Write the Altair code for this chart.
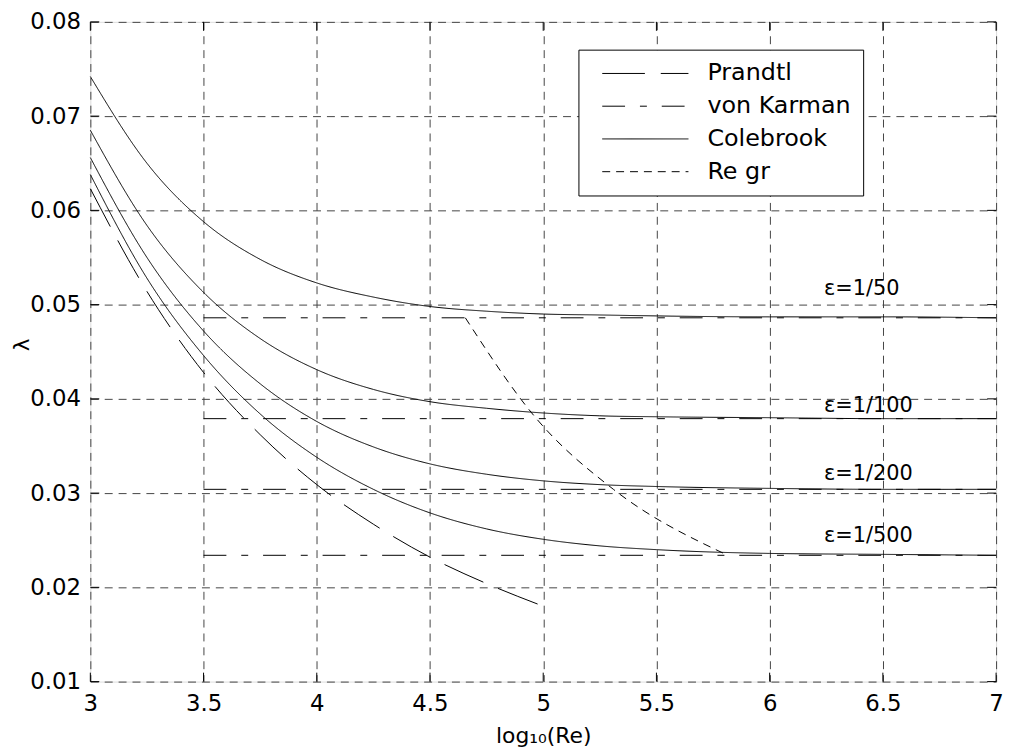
import altair as alt
import pandas as pd

# ---- data ----
eps_names = ["1/50", "1/100", "1/200", "1/500"]

x_cb = [3.0, 3.25, 3.5, 3.75, 4.0, 4.25, 4.5, 4.75, 5.0, 5.25, 5.5, 6.0, 6.5, 7.0]
cb_50 = [0.0742, 0.0650, 0.0588, 0.0548, 0.0523, 0.0508, 0.0498, 0.0493, 0.0490, 0.0489, 0.0488, 0.0487, 0.0487, 0.0486]
cb_100 = [0.0685, 0.0584, 0.0513, 0.0464, 0.0431, 0.0410, 0.0397, 0.0390, 0.0385, 0.0382, 0.0381, 0.0380, 0.0379, 0.0379]
cb_200 = [0.0656, 0.0550, 0.0472, 0.0416, 0.0376, 0.0349, 0.0331, 0.0320, 0.0313, 0.0309, 0.0307, 0.0305, 0.0304, 0.0304]
cb_500 = [0.0638, 0.0528, 0.0446, 0.0384, 0.0338, 0.0304, 0.0279, 0.0262, 0.0251, 0.0244, 0.0240, 0.0236, 0.0235, 0.0234]

x_pr = [3.0, 3.25, 3.5, 3.75, 4.0, 4.25, 4.5, 4.75, 5.0]
pr = [0.0623, 0.0514, 0.0428, 0.0362, 0.0309, 0.0267, 0.0232, 0.0204, 0.0180]

x_vk = [3.5, 7.0]
vk = [0.0486, 0.0379, 0.0304, 0.0234]

x_gr = [4.656, 4.97, 5.31, 5.815]
gr = [0.0486, 0.0379, 0.0304, 0.0234]

lab_x = 6.24
lab_y = [0.0517, 0.0392, 0.0320, 0.0254]
lab_text = ["ε=1/50", "ε=1/100", "ε=1/200", "ε=1/500"]

xticks = [3, 3.5, 4, 4.5, 5, 5.5, 6, 6.5, 7]
yticks = [0.01, 0.02, 0.03, 0.04, 0.05, 0.06, 0.07, 0.08]

series_order = ["Prandtl", "von Karman", "Colebrook", "Re gr"]
dash_range = [[43, 16], [23, 15, 7, 15], [1, 0], [8, 6]]

# ---- build tables ----
rows = []
for name, ys_ in zip(eps_names, [cb_50, cb_100, cb_200, cb_500]):
    for xv, yv in zip(x_cb, ys_):
        rows.append({"x": xv, "lam": yv, "series": "Colebrook", "grp": "cb" + name})
for xv, yv in zip(x_pr, pr):
    rows.append({"x": xv, "lam": yv, "series": "Prandtl", "grp": "pr"})
for name, lv in zip(eps_names, vk):
    for xv in x_vk:
        rows.append({"x": xv, "lam": lv, "series": "von Karman", "grp": "vk" + name})
for xv, yv in zip(x_gr, gr):
    rows.append({"x": xv, "lam": yv, "series": "Re gr", "grp": "gr"})
df = pd.DataFrame(rows)

labels = pd.DataFrame({"x": [lab_x] * 4, "lam": lab_y, "t": lab_text})
xt = pd.DataFrame({"x": xticks})
yt = pd.DataFrame({"lam": yticks})

W, H = 913, 665
FONT = "DejaVu Sans"
TL = 9

xs = alt.Scale(domain=[3, 7], nice=False, zero=False)
ysc = alt.Scale(domain=[0.01, 0.08], nice=False, zero=False)

x_axis = alt.Axis(values=xticks, format="~g", title="log₁₀(Re)", grid=True,
                  gridDash=[8, 6], gridColor="#444", gridWidth=1, ticks=False, domain=False,
                  labelFont=FONT, labelFontSize=23, labelColor="black", labelPadding=11,
                  titleFont=FONT, titleFontSize=22, titleFontWeight="normal", titleColor="black",
                  titlePadding=10, labelFlush=False)
y_axis = alt.Axis(values=yticks, format=".2f", title="λ", grid=True,
                  gridDash=[8, 6], gridColor="#444", gridWidth=1, ticks=False, domain=False,
                  labelFont=FONT, labelFontSize=23, labelColor="black", labelPadding=10,
                  titleFont=FONT, titleFontSize=21, titleFontWeight="normal", titleColor="black",
                  titleAngle=270, titleAlign="center", titleBaseline="middle",
                  titleX=-68, titleY=325, labelFlush=False)

lines = alt.Chart(df).mark_line(color="black", strokeWidth=1, interpolate="monotone").encode(
    x=alt.X("x:Q", scale=xs, axis=x_axis),
    y=alt.Y("lam:Q", scale=ysc, axis=y_axis),
    strokeDash=alt.StrokeDash(
        "series:N",
        scale=alt.Scale(domain=series_order, range=dash_range),
        legend=alt.Legend(
            title=None, orient="none", legendX=492, legendY=28,
            symbolType="M0,0H16", symbolSize=118, symbolStrokeWidth=1,
            symbolStrokeColor="black", symbolFillColor="transparent",
            labelFont=FONT, labelFontSize=24, labelColor="black", labelLimit=400,
            padding=12, rowPadding=9, symbolOffset=0, labelOffset=94,
            fillColor="white", strokeColor="black",
        ),
        sort=series_order,
    ),
    detail="grp:N",
)

texts = alt.Chart(labels).mark_text(align="left", baseline="middle", font=FONT,
                                    fontSize=21, color="black").encode(
    x=alt.X("x:Q", scale=xs), y=alt.Y("lam:Q", scale=ysc), text="t:N")

tick_b = alt.Chart(xt).mark_rule(color="black", strokeWidth=1).encode(
    x=alt.X("x:Q", scale=xs), y=alt.value(H), y2=alt.value(H - TL))
tick_t = alt.Chart(xt).mark_rule(color="black", strokeWidth=1).encode(
    x=alt.X("x:Q", scale=xs), y=alt.value(0), y2=alt.value(TL))
tick_l = alt.Chart(yt).mark_rule(color="black", strokeWidth=1).encode(
    y=alt.Y("lam:Q", scale=ysc), x=alt.value(0), x2=alt.value(TL))
tick_r = alt.Chart(yt).mark_rule(color="black", strokeWidth=1).encode(
    y=alt.Y("lam:Q", scale=ysc), x=alt.value(W), x2=alt.value(W - TL))

chart = alt.layer(lines, texts, tick_b, tick_t, tick_l, tick_r).properties(
    width=W, height=H,
    autosize=alt.AutoSizeParams(type="none"),
    padding={"left": 83, "top": 11, "right": 11, "bottom": 69},
).configure_view(stroke="black", strokeWidth=1).configure(background="white")

chart.save("out.html", embed_options={"renderer": "svg", "actions": False})
